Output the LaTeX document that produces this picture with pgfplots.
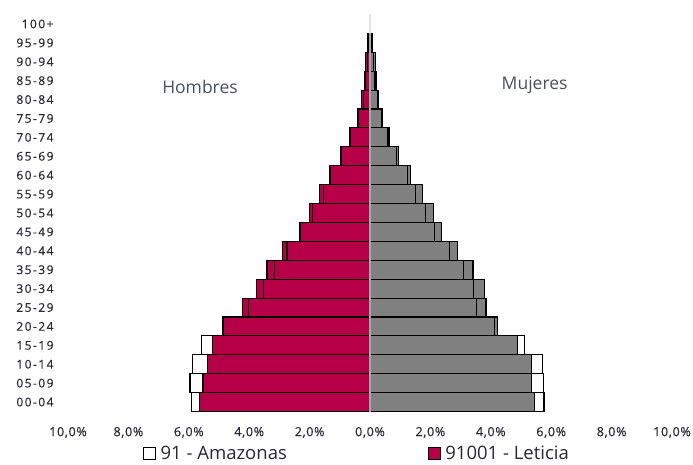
\documentclass[border=0pt]{standalone}
\usepackage{pgfplots}
\pgfplotsset{compat=1.18}
\usepackage{pgfplotstable}
\usepackage{fontspec}
\setmainfont{Open Sans}
\newfontfamily\xfont{Open Sans}[LetterSpace=5,FakeBold=0.4]
\newfontfamily\yfont{Open Sans}[LetterSpace=12,FakeBold=0.4]
\definecolor{crim}{RGB}{181,0,72}
\definecolor{bgray}{RGB}{128,128,128}
\definecolor{txt}{RGB}{40,40,56}
\definecolor{lbl}{RGB}{74,80,96}
\pgfplotstableread{
y amzM letM amzF letF
0  -5.92 -5.66 5.76 5.46
1  -5.96 -5.53 5.73 5.36
2  -5.88 -5.37 5.71 5.36
3  -5.59 -5.21 5.12 4.88
4  -4.86 -4.89 4.12 4.23
5  -4.03 -4.23 3.54 3.84
6  -3.54 -3.75 3.43 3.79
7  -3.17 -3.41 3.10 3.41
8  -2.75 -2.89 2.64 2.90
9  -2.29 -2.32 2.14 2.38
10 -1.90 -1.99 1.84 2.09
11 -1.54 -1.68 1.51 1.73
12 -1.32 -1.35 1.23 1.34
13 -0.94 -0.96 0.89 0.93
14 -0.66 -0.68 0.57 0.63
15 -0.37 -0.40 0.39 0.42
16 -0.22 -0.29 0.24 0.28
17 -0.15 -0.19 0.16 0.20
18 -0.08 -0.16 0.12 0.17
19 -0.06 -0.09 0.06 0.09
20  0.00  0.00 0.00 0.00
}\data
\begin{document}
\begin{tikzpicture}[x=1pt,y=1pt]
\useasboundingbox (0,0) rectangle (693,464);
\begin{axis}[
  at={(68pt,52.5pt)}, anchor=south west,
  scale only axis, width=604pt, height=397pt,
  xbar, bar width=1, bar shift=0pt,
  xmin=-10, xmax=10, ymin=-0.5, ymax=20.5,
  axis line style={draw=none},
  major tick length=0pt,
  xtick={-10,-8,-6,-4,-2,0,2,4,6,8,10},
  xticklabels={{10,0\%},{8,0\%},{6,0\%},{4,0\%},{2,0\%},{0,0\%},{2,0\%},{4,0\%},{6,0\%},{8,0\%},{10,0\%}},
  ytick={0,...,20},
  yticklabels={00-04,05-09,10-14,15-19,20-24,25-29,30-34,35-39,40-44,45-49,50-54,55-59,60-64,65-69,70-74,75-79,80-84,85-89,90-94,95-99,100+},
  xticklabel style={font=\xfont\fontsize{12.6}{14}\selectfont, text=txt, yshift=-12pt},
  yticklabel style={font=\yfont\fontsize{12}{14}\selectfont, text=txt, xshift=-11pt},
  legend columns=2,
  legend style={draw=none, fill=none, inner sep=0pt, at={(axis description cs:0.124,-0.1065)}, anchor=west,
    font=\fontsize{18.5}{22}\selectfont, text=txt,
    /tikz/every even column/.append style={column sep=139pt}},
  legend image code/.code={\draw[#1, line width=1.1pt] (0pt,-6pt) rectangle (12pt,6pt); \path[draw=none,fill=none] (0pt,0pt) -- (15pt,0pt);},
]
\addplot[draw=black, fill=crim, line width=1.1pt, forget plot] table[x=letM, y=y] {\data};
\addplot[draw=black, fill=bgray, line width=1.1pt, forget plot] table[x=letF, y=y] {\data};
\addplot[draw=black, fill=none, line width=1.1pt, forget plot] table[x=amzM, y=y] {\data};
\addplot[draw=black, fill=none, line width=1.1pt, forget plot] table[x=amzF, y=y] {\data};
\addlegendimage{draw=black, fill=white}
\addlegendentry{91 - Amazonas}
\addlegendimage{draw=black, fill=crim}
\addlegendentry{91001 - Leticia}
\draw[gray!70, line width=1.8pt] (axis cs:0,-0.5) -- (axis cs:0,19.5);
\draw[gray!22, line width=1.8pt] (axis cs:0,19.5) -- (axis cs:0,20.5);
\node[font=\fontsize{17.5}{20}\selectfont, text=lbl] at (axis cs:-5.63,16.65) {Hombres};
\node[font=\fontsize{17.5}{20}\selectfont, text=lbl] at (axis cs:5.45,16.75) {Mujeres};
\end{axis}
\end{tikzpicture}
\end{document}
